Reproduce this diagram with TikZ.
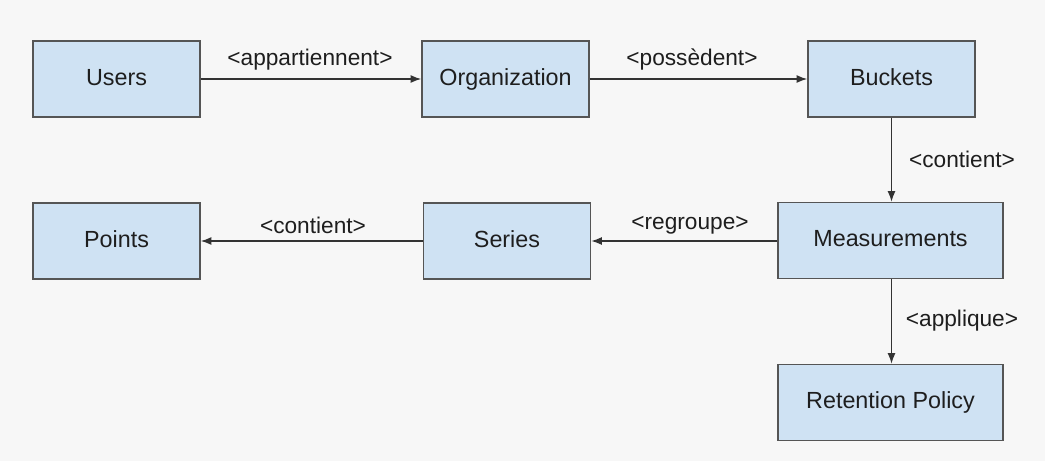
\documentclass[tikz,border=0pt]{standalone}
\usepackage{fontspec}
\setmainfont{Liberation Sans}
\usetikzlibrary{arrows.meta}
\definecolor{boxfill}{HTML}{CFE2F3}
\definecolor{boxline}{HTML}{555555}
\definecolor{txt}{HTML}{1E1E1E}
\definecolor{bg}{HTML}{F7F7F7}
\begin{document}
\begin{tikzpicture}[x=0.75pt,y=-0.75pt,
  entity/.style={draw=boxline,fill=boxfill,line width=1.1pt,minimum width=167*0.75pt,minimum height=76*0.75pt,inner sep=0pt,text height=12.5pt,text depth=3.5pt,font=\fontsize{17.5}{20}\selectfont,text=txt},
  wide/.style={entity,minimum width=225*0.75pt},
  rel/.style={draw=black!80,line width=1.1pt,-{Latex[length=8pt,width=6pt]}},
  lbl/.style={font=\fontsize{17}{20}\selectfont,text=txt,inner sep=0pt}]
\useasboundingbox[fill=bg] (0,0) rectangle (1045,461);
\node[entity] (users) at (116.5,79) {Users};
\node[entity] (org) at (505.5,79) {Organization};
\node[entity] (buckets) at (891.5,79) {Buckets};
\node[wide] (meas) at (890.5,240.5) {Measurements};
\node[wide] (ret) at (890.5,402.5) {Retention Policy};
\node[entity] (points) at (116.5,241) {Points};
\node[entity] (series) at (507,241) {Series};
\draw[rel] (users) -- (org);
\draw[rel] (org) -- (buckets);
\draw[rel] (buckets.south) -- (meas.north -| buckets.south);
\draw[rel] (meas.west |- series) -- (series);
\draw[rel] (series) -- (points);
\draw[rel] (meas.south -| buckets.south) -- (ret.north -| buckets.south);
\node[lbl] (l1) at (310,60) {<appartiennent>};
\node[lbl] (l2) at (692,60) {<possèdent>};
\node[lbl] (l3) at (962,159) {<contient>};
\node[lbl] (l4) at (690,225) {<regroupe>};
\node[lbl] (l5) at (313,225) {<contient>};
\node[lbl] (l6) at (962,321) {<applique>};
\end{tikzpicture}
\end{document}
